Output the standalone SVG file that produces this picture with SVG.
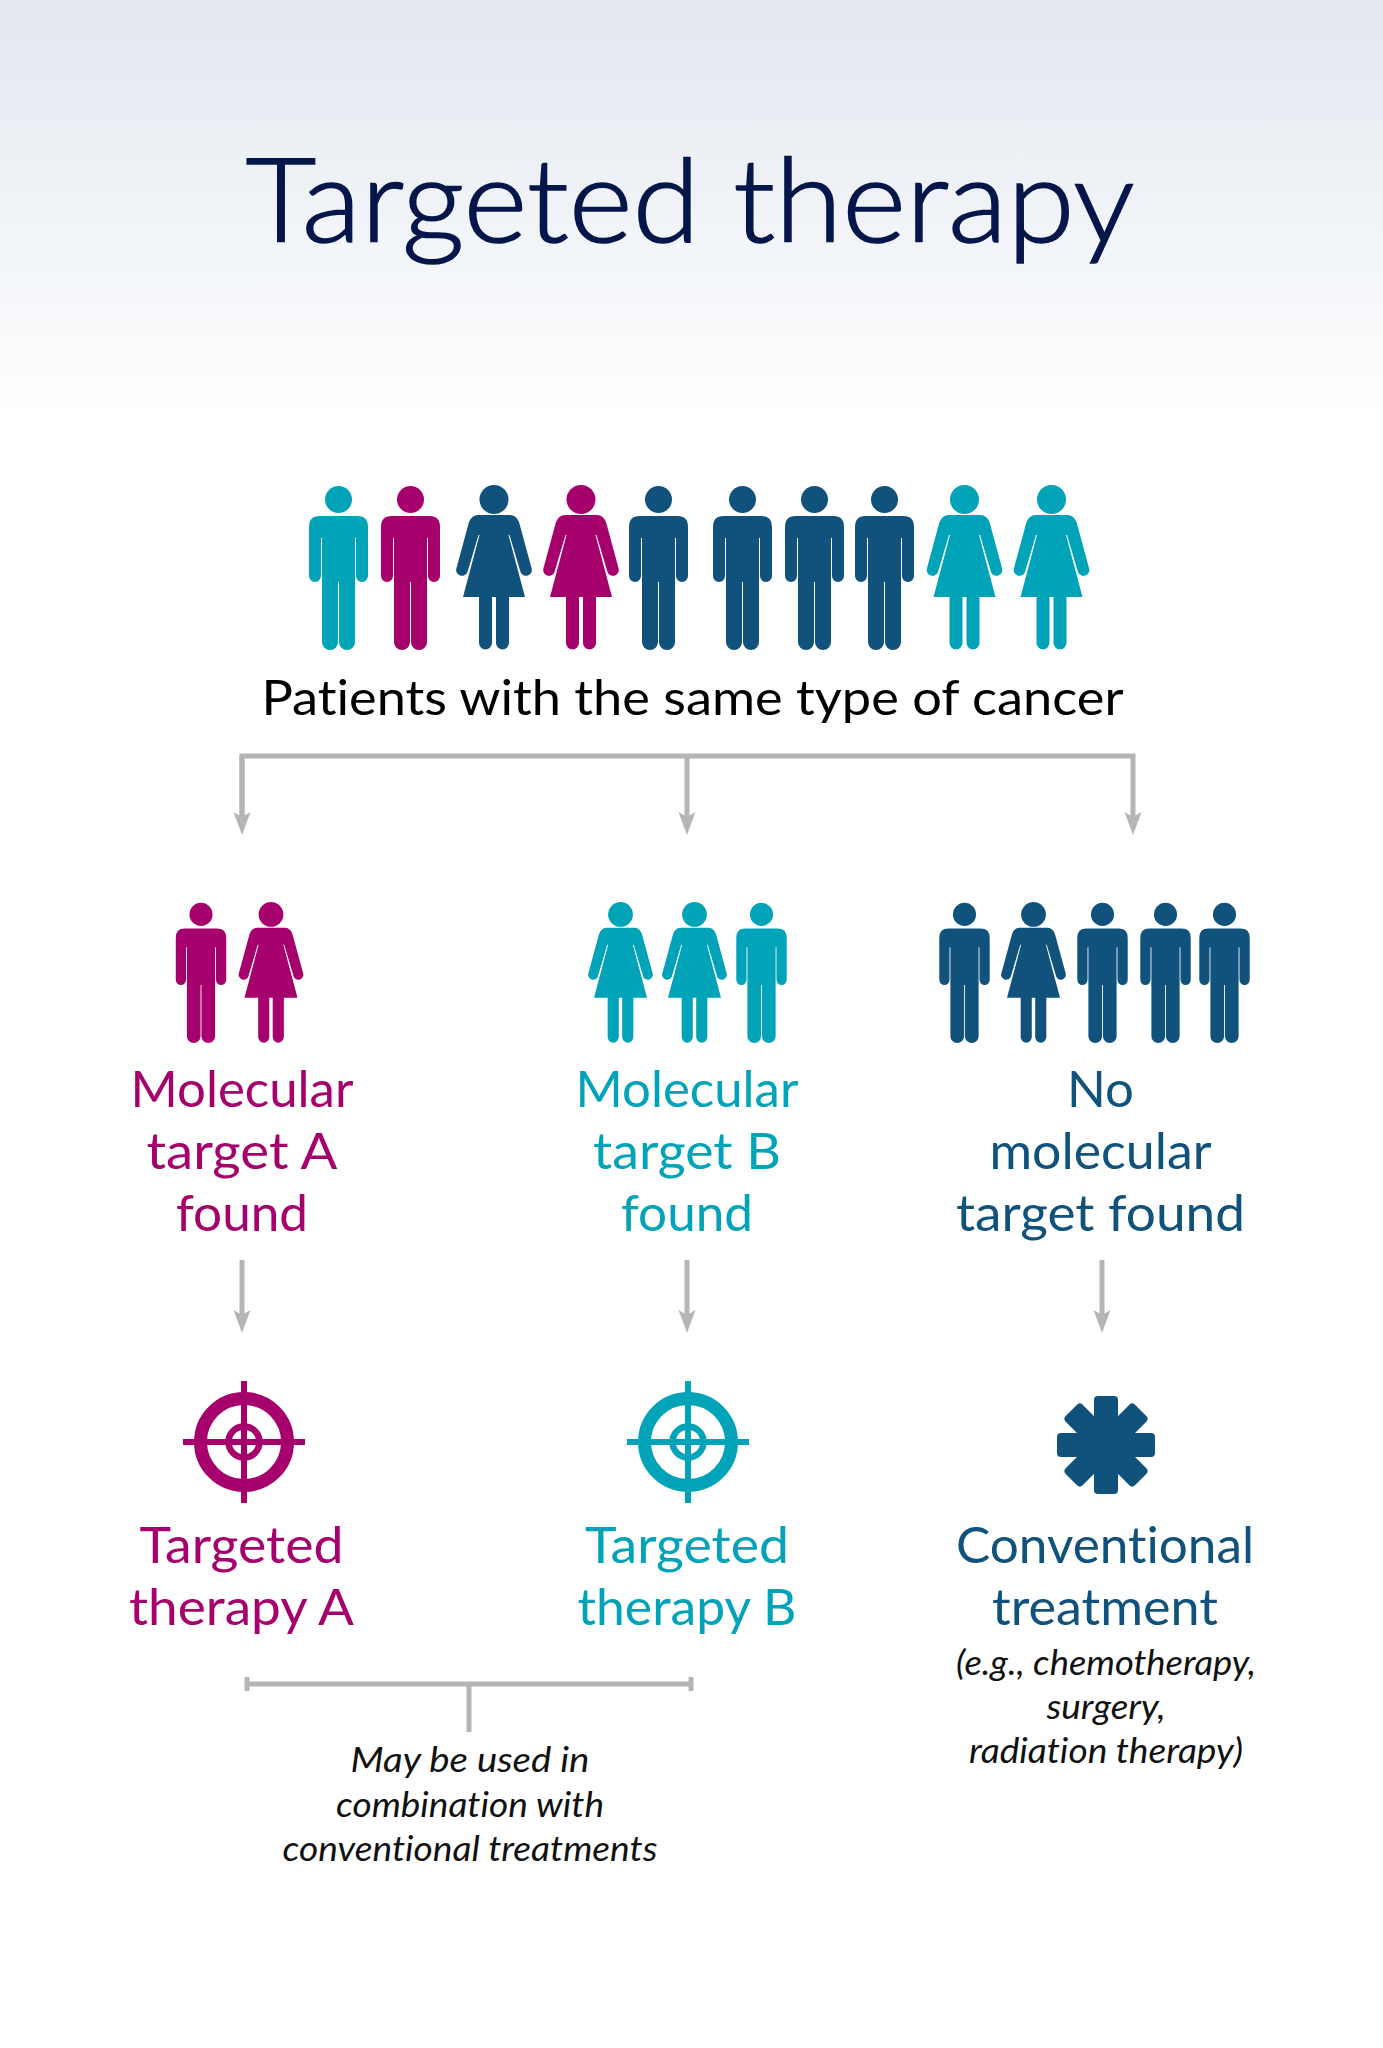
<svg xmlns="http://www.w3.org/2000/svg" width="1383" height="2048" viewBox="0 0 1383 2048">
<style>
text{font-family:"Lato","Open Sans","Liberation Sans",sans-serif;text-anchor:middle;font-variant-ligatures:none}
.m{fill:#a5006b}.t{fill:#00a3b8}.n{fill:#10527c}
.lab{font-size:51px}
.it{font-size:35.5px;font-style:italic;fill:#111}
.ln{fill:none;stroke:#b4b5b7;stroke-width:5}
.ring{fill:none;stroke-width:13}
</style>
<defs>
<linearGradient id="bg" x1="0" y1="0" x2="0" y2="1"><stop offset="0" stop-color="#e3e8ef"/><stop offset="0.55" stop-color="#f1f4f8"/><stop offset="1" stop-color="#ffffff"/></linearGradient>
<marker id="ah" markerUnits="userSpaceOnUse" markerWidth="24" markerHeight="18" refX="13" refY="9" orient="auto" viewBox="0 0 24 18"><path d="M23,9L0,.5L5,9L0,17.5Z" fill="#b4b5b7"/></marker>
<g id="man"><circle cx="0" cy="14.5" r="13.5"/><path d="M0,31H19Q29.5,31 29.5,42V91A6,6 0 0 1 17.5,91V53H16.5V157A8,8 0 0 1 .5,157V97H-.5V157A8,8 0 0 1 -16.5,157V53H-17.5V91A6,6 0 0 1 -29.5,91V42Q-29.5,31 -19,31Z"/></g>
<g id="woman"><circle cx="0" cy="14.5" r="14.5"/><path d="M0,30H16Q22,30 25,37L37.5,83A5.7,5.7 0 0 1 26.5,87L15.5,50H14.5L31,112H15V158A6.5,6.5 0 0 1 2,158V112H-2V158A6.5,6.5 0 0 1 -15,158V112H-31L-14.5,50H-15.5L-26.5,87A5.7,5.7 0 0 1 -37.5,83L-25,37Q-22,30 -16,30Z"/></g>
<g id="target"><path d="M-3,-61H3V61H-3ZM-61,-3H61V3H-61Z"/><circle r="43.5" class="ring" stroke="currentColor"/><circle r="15.5" fill="none" stroke="currentColor" stroke-width="6.5"/></g>
</defs>
<rect width="1383" height="420" fill="url(#bg)"/>
<g id="title"><text x="690" y="242" font-size="117" font-weight="300" stroke="#04164a" stroke-width="1.6" fill="#04164a" textLength="889" lengthAdjust="spacingAndGlyphs">Targeted therapy</text></g>
<g id="patients">
<use href="#man" x="338.5" y="485" class="t"/>
<use href="#man" x="410.5" y="485" class="m"/>
<use href="#woman" x="494" y="485" class="n"/>
<use href="#woman" x="581" y="485" class="m"/>
<use href="#man" x="658.5" y="485" class="n"/>
<use href="#man" x="742.5" y="485" class="n"/>
<use href="#man" x="814.5" y="485" class="n"/>
<use href="#man" x="884.5" y="485" class="n"/>
<use href="#woman" x="964.5" y="485" class="t"/>
<use href="#woman" x="1051.5" y="485" class="t"/>
<text x="692.5" y="715" font-size="49" fill="#000" textLength="862" lengthAdjust="spacingAndGlyphs">Patients with the same type of cancer</text>
</g>
<g id="connectors">
<path class="ln" d="M242,825V756H1133V825" marker-end="url(#ah)"/>
<path class="ln" d="M242,756V825" marker-end="url(#ah)"/>
<path class="ln" d="M687,756V825" marker-end="url(#ah)"/>
<path class="ln" d="M242,1260V1323" marker-end="url(#ah)"/>
<path class="ln" d="M687,1260V1323" marker-end="url(#ah)"/>
<path class="ln" d="M1102,1260V1323" marker-end="url(#ah)"/>
<path class="ln" d="M247,1677V1691M247,1684H691M691,1677V1691M469,1684V1732"/>
</g>
<g id="groupA" class="m">
<use href="#man" transform="translate(201,902) scale(.855)"/>
<use href="#woman" transform="translate(271,902) scale(.855)"/>
<text class="lab" x="242" y="1107" textLength="223" lengthAdjust="spacingAndGlyphs">Molecular</text><text class="lab" x="242" y="1169" textLength="191" lengthAdjust="spacingAndGlyphs">target A</text><text class="lab" x="242" y="1231" textLength="132" lengthAdjust="spacingAndGlyphs">found</text>
</g>
<g id="groupB" class="t">
<use href="#woman" transform="translate(620.5,902) scale(.855)"/>
<use href="#woman" transform="translate(694.5,902) scale(.855)"/>
<use href="#man" transform="translate(761.5,902) scale(.855)"/>
<text class="lab" x="687" y="1107" textLength="223" lengthAdjust="spacingAndGlyphs">Molecular</text><text class="lab" x="687" y="1169" textLength="188" lengthAdjust="spacingAndGlyphs">target B</text><text class="lab" x="687" y="1231" textLength="132" lengthAdjust="spacingAndGlyphs">found</text>
</g>
<g id="groupC" class="n">
<use href="#man" transform="translate(964.5,902) scale(.855)"/>
<use href="#woman" transform="translate(1033.5,902) scale(.855)"/>
<use href="#man" transform="translate(1102.5,902) scale(.855)"/>
<use href="#man" transform="translate(1165.5,902) scale(.855)"/>
<use href="#man" transform="translate(1224.5,902) scale(.855)"/>
<text class="lab" x="1100.5" y="1107" textLength="67" lengthAdjust="spacingAndGlyphs">No</text><text class="lab" x="1100.5" y="1169" textLength="222" lengthAdjust="spacingAndGlyphs">molecular</text><text class="lab" x="1100.5" y="1231" textLength="289" lengthAdjust="spacingAndGlyphs">target found</text>
</g>
<g id="therapyA" class="m" color="#a5006b">
<use href="#target" x="244" y="1442"/>
<text class="lab" x="241.5" y="1563" textLength="204" lengthAdjust="spacingAndGlyphs">Targeted</text><text class="lab" x="241.5" y="1625" textLength="225" lengthAdjust="spacingAndGlyphs">therapy A</text>
</g>
<g id="therapyB" class="t" color="#00a3b8">
<use href="#target" x="688" y="1442"/>
<text class="lab" x="687" y="1563" textLength="204" lengthAdjust="spacingAndGlyphs">Targeted</text><text class="lab" x="687" y="1625" textLength="219" lengthAdjust="spacingAndGlyphs">therapy B</text>
</g>
<g id="conventional" class="n">
<g transform="translate(1106,1445)"><rect x="-12" y="-49" width="24" height="98" rx="4"/><rect x="-12" y="-49" width="24" height="98" rx="4" transform="rotate(45)"/><rect x="-12" y="-49" width="24" height="98" rx="4" transform="rotate(90)"/><rect x="-12" y="-49" width="24" height="98" rx="4" transform="rotate(135)"/></g>
<text class="lab" x="1105" y="1563" textLength="298" lengthAdjust="spacingAndGlyphs">Conventional</text><text class="lab" x="1105" y="1625" textLength="226" lengthAdjust="spacingAndGlyphs">treatment</text>
<text class="it" x="1106" y="1675" textLength="300" lengthAdjust="spacingAndGlyphs">(e.g., chemotherapy,</text><text class="it" x="1106" y="1719" textLength="119" lengthAdjust="spacingAndGlyphs">surgery,</text><text class="it" x="1106" y="1763" textLength="274" lengthAdjust="spacingAndGlyphs">radiation therapy)</text>
</g>
<g id="note">
<text class="it" x="470" y="1772" textLength="239" lengthAdjust="spacingAndGlyphs">May be used in</text><text class="it" x="470" y="1817" textLength="268" lengthAdjust="spacingAndGlyphs">combination with</text><text class="it" x="470" y="1861" textLength="375" lengthAdjust="spacingAndGlyphs">conventional treatments</text>
</g>
</svg>
